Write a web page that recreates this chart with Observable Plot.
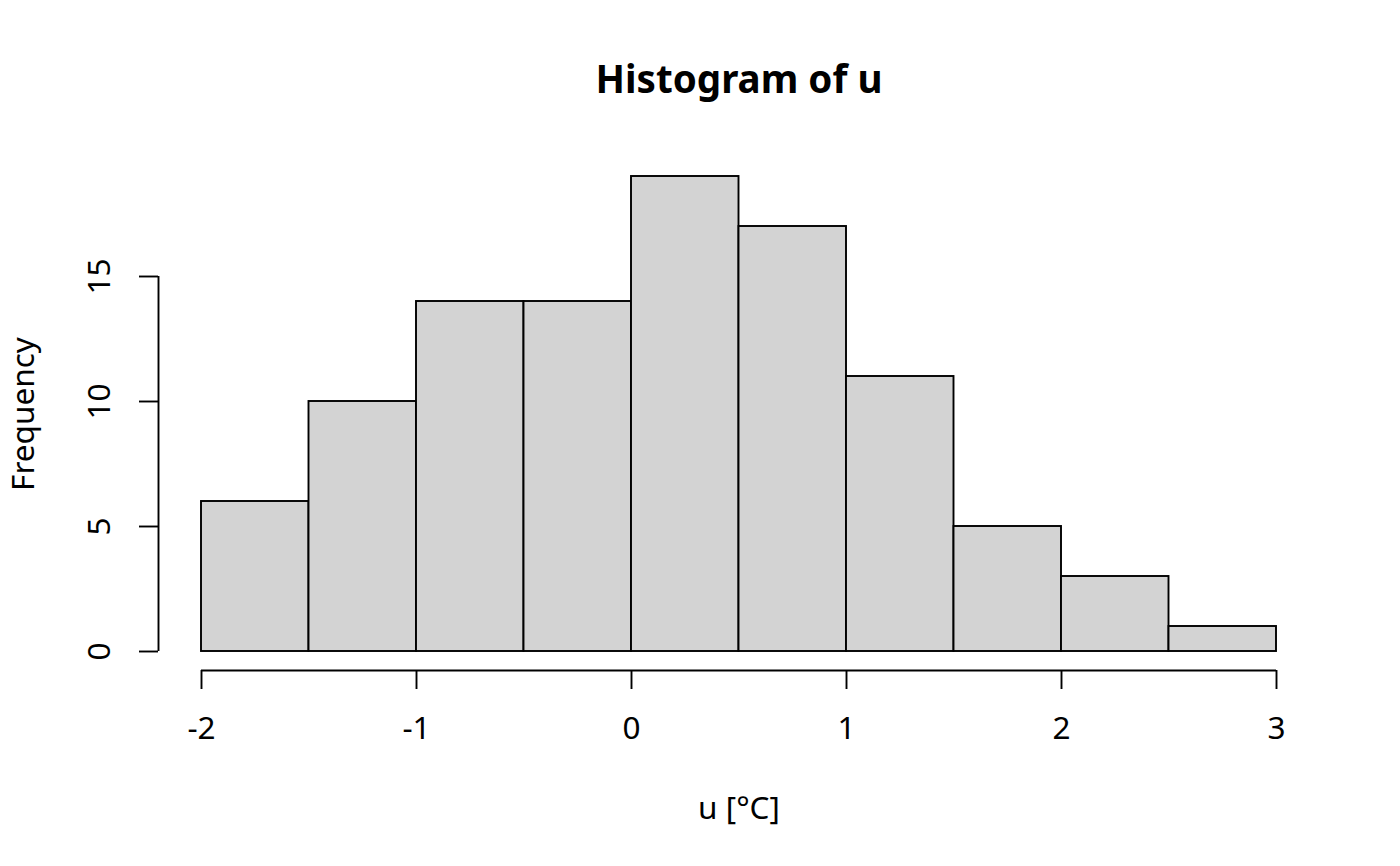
<!DOCTYPE html>
<html>
<head>
<meta charset="utf-8">
<script src="https://cdn.jsdelivr.net/npm/d3@7"></script>
<script src="https://cdn.jsdelivr.net/npm/@observablehq/plot@0.6"></script>
<style>
  html, body { margin: 0; padding: 0; background: #fff; }
  #chart svg { display: block; }
</style>
</head>
<body>
<div id="chart"></div>
<script>
// Histogram data (bin edges and counts)
const binStart = [-2, -1.5, -1, -0.5, 0, 0.5, 1, 1.5, 2, 2.5];
const binEnd   = [-1.5, -1, -0.5, 0, 0.5, 1, 1.5, 2, 2.5, 3];
const counts   = [6, 10, 14, 14, 19, 17, 11, 5, 3, 1];

// Axis ticks and labels
const xTicks = [-2, -1, 0, 1, 2, 3];
const xTickLabels = ["-2", "-1", "0", "1", "2", "3"];
const yTicks = [0, 5, 10, 15];
const yTickLabels = ["0", "5", "10", "15"];

const title = "Histogram of u";
const xLabel = "u [°C]";
const yLabel = "Frequency";

// R-style 4% domain extension
const xDomain = [-2.2, 3.2];
const yDomain = [-0.76, 19.76];

const bins = binStart.map((s, i) => ({x1: s, x2: binEnd[i], count: counts[i]}));
const xTickData = xTicks.map((v, i) => ({v, label: xTickLabels[i]}));
const yTickData = yTicks.map((v, i) => ({v, label: yTickLabels[i]}));

const FONT = 31.5;
const chart = Plot.plot({
  width: 1400,
  height: 866,
  marginLeft: 158,
  marginRight: 81,
  marginTop: 157,
  marginBottom: 196,
  style: {fontFamily: "'Noto Sans', 'Open Sans', sans-serif", fontSize: FONT + "px", color: "#000", background: "#fff"},
  x: {domain: xDomain, label: null},
  y: {domain: yDomain, label: null},
  marks: [
    Plot.rectY(bins, {x1: "x1", x2: "x2", y1: 0, y2: "count", fill: "#d3d3d3", stroke: "#000", strokeWidth: 1.9}),
    // x axis
    Plot.axisX({ticks: xTicks, tickSize: 19, tickFormat: () => "", strokeWidth: 1.9, label: null}),
    Plot.ruleY([yDomain[0]], {x1: xTicks[0], x2: xTicks[xTicks.length - 1], strokeWidth: 1.9}),
    Plot.text(xTickData, {x: "v", text: "label", frameAnchor: "bottom", lineAnchor: "bottom", dy: 68, fontSize: FONT, fill: "#000"}),
    // y axis
    Plot.axisY({ticks: yTicks, tickSize: 19, tickFormat: () => "", strokeWidth: 1.9, label: null}),
    Plot.ruleX([xDomain[0]], {y1: yTicks[0], y2: yTicks[yTicks.length - 1], strokeWidth: 1.9}),
    Plot.text(yTickData, {y: "v", text: "label", frameAnchor: "left", dx: -49, rotate: -90, lineAnchor: "bottom", textAnchor: "middle", fontSize: FONT, fill: "#000"}),
    // titles
    Plot.text([title], {frameAnchor: "top", lineAnchor: "bottom", dy: -65, fontSize: 38.6, fontWeight: "bold", fill: "#000"}),
    Plot.text([xLabel], {frameAnchor: "bottom", lineAnchor: "bottom", dy: 148, fontSize: FONT, fill: "#000"}),
    Plot.text([yLabel], {frameAnchor: "left", dx: -125, rotate: -90, lineAnchor: "bottom", textAnchor: "middle", fontSize: FONT, fill: "#000"})
  ]
});
document.getElementById("chart").appendChild(chart);
</script>
</body>
</html>
